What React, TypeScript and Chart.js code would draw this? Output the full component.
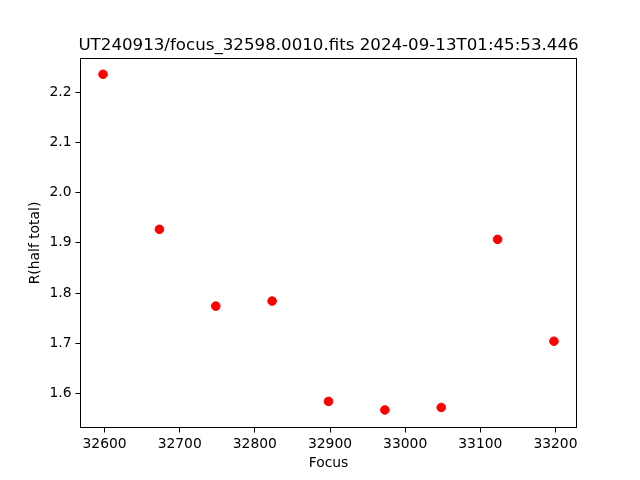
import React, { useEffect, useRef } from "react";
import { Chart, registerables } from "chart.js";

Chart.register(...registerables);

const titleText = "UT240913/focus_32598.0010.fits 2024-09-13T01:45:53.446";
const xLabel = "Focus";
const yLabel = "R(half total)";
const focusValues = [32598, 32673, 32748, 32823, 32898, 32973, 33048, 33123, 33198];
const radiusValues = [2.236, 1.927, 1.774, 1.784, 1.584, 1.567, 1.572, 1.907, 1.704];
const xTicks = [32600, 32700, 32800, 32900, 33000, 33100, 33200];
const yTicks = [1.6, 1.7, 1.8, 1.9, 2.0, 2.1, 2.2];

const FONT = "'DejaVu Sans', sans-serif";

const framePlugin = {
  id: "frameAndTitle",
  afterDraw(chart: any) {
    const { ctx, chartArea } = chart;
    ctx.save();
    ctx.strokeStyle = "#000";
    ctx.lineWidth = 1;
    ctx.strokeRect(
      chartArea.left,
      chartArea.top,
      chartArea.right - chartArea.left,
      chartArea.bottom - chartArea.top
    );
    ctx.fillStyle = "#000";
    ctx.font = `16.67px ${FONT}`;
    ctx.textAlign = "center";
    ctx.textBaseline = "alphabetic";
    ctx.fillText(titleText, (chartArea.left + chartArea.right) / 2, 50);
    ctx.restore();
  },
};

export default function App() {
  const ref = useRef<HTMLCanvasElement | null>(null);

  useEffect(() => {
    if (!ref.current) return;
    Chart.defaults.font.family = FONT;
    Chart.defaults.font.size = 13.89;
    Chart.defaults.color = "#000";
    const chart = new Chart(ref.current, {
      type: "scatter",
      data: {
        datasets: [
          {
            data: focusValues.map((x, i) => ({ x, y: radiusValues[i] })),
            backgroundColor: "#ff0000",
            borderColor: "#ff0000",
            pointRadius: 4.3,
            borderWidth: 1,
            pointHoverRadius: 4.3,
          },
        ],
      },
      options: {
        animation: false,
        responsive: false,
        maintainAspectRatio: false,
        events: [],
        layout: { padding: { top: 58.5, right: 63.5, left: 0, bottom: 0 } },
        plugins: {
          legend: { display: false },
          tooltip: { enabled: false },
          title: { display: false },
        },
        scales: {
          x: {
            type: "linear",
            position: "bottom",
            min: 32568,
            max: 33228,
            border: { display: false },
            grid: {
              drawOnChartArea: false,
              drawTicks: true,
              tickLength: 5,
              color: "#000",
              lineWidth: 1,
            },
            ticks: {
              padding: 4,
              maxRotation: 0,
              autoSkip: false,
              callback: (v: any) => String(v),
            },
            afterBuildTicks: (scale: any) => {
              scale.ticks = xTicks.map((v) => ({ value: v }));
            },
            afterFit: (scale: any) => {
              scale.height = 52.5;
            },
            title: {
              display: true,
              text: xLabel,
              padding: { top: 0, bottom: 8.5 },
            },
          },
          y: {
            type: "linear",
            position: "left",
            min: 1.532,
            max: 2.2675,
            border: { display: false },
            grid: {
              drawOnChartArea: false,
              drawTicks: true,
              tickLength: 5,
              color: "#000",
              lineWidth: 1,
            },
            ticks: {
              padding: 4,
              autoSkip: false,
              callback: (v: any) => Number(v).toFixed(1),
            },
            afterBuildTicks: (scale: any) => {
              scale.ticks = yTicks.map((v) => ({ value: v }));
            },
            afterFit: (scale: any) => {
              scale.width = 80.5;
            },
            title: {
              display: true,
              text: yLabel,
              padding: { top: 27, bottom: 27 },
            },
          },
        },
      },
      plugins: [framePlugin],
    });
    return () => chart.destroy();
  }, []);

  return (
    <div style={{ position: "fixed", left: 0, top: 0, width: 640, height: 480, background: "#fff" }}>
      <canvas ref={ref} width={640} height={480} style={{ width: 640, height: 480, display: "block" }} />
    </div>
  );
}
